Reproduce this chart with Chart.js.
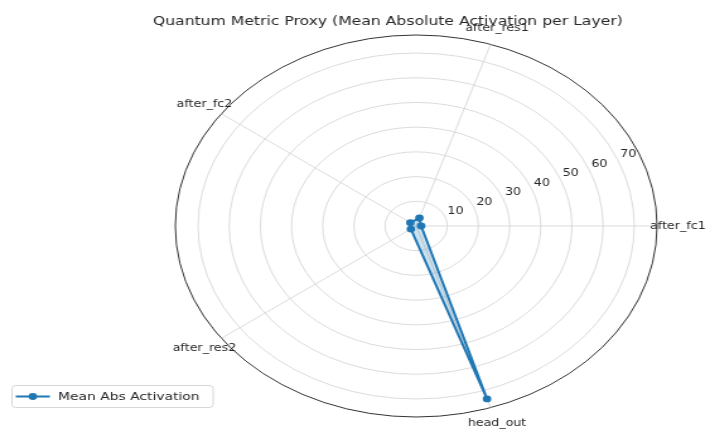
<!DOCTYPE html>
<html>
<head>
<meta charset="utf-8">
<script src="https://cdn.jsdelivr.net/npm/chart.js@4/dist/chart.umd.min.js"></script>
<style>
  html, body { margin: 0; padding: 0; background: #fff; overflow: hidden; }
</style>
</head>
<body>
<canvas id="c" width="563" height="432" style="display:block;width:710px;height:432px"></canvas>
<script>
// Layers in the order they are recorded, and the mean |activation| of each.
const layers = ['after_fc1', 'after_res1', 'after_fc2', 'after_res2', 'head_out'];
const meanAbsActivation = [1.6, 3.4, 2.3, 2.1, 73.6];
const radialTicks = [10, 20, 30, 40, 50, 60, 70];
const radialMax = 77.3;
const chartTitle = 'Quantum Metric Proxy (Mean Absolute Activation per Layer)';
const seriesName = 'Mean Abs Activation';

const LINE_BLUE = '#1f77b4';
const TEXT = '#262626';
const FONT = '"DejaVu Sans", "Liberation Sans", sans-serif';

// The first layer points east and the others follow counter-clockwise;
// the radial scale walks clockwise, so take the remaining layers in reverse.
const order = layers.map((_, i) => (layers.length - i) % layers.length);
const axisLabels = order.map(i => layers[i]);
const axisValues = order.map(i => meanAbsActivation[i]);

const polarDecor = {
  id: 'polarDecor',
  afterDraw(chart) {
    const ctx = chart.ctx;
    const s = chart.scales.r;
    ctx.save();

    // radial tick labels along the 22.5° ray
    const a = 22.5 * Math.PI / 180;
    ctx.fillStyle = TEXT;
    ctx.font = '10px ' + FONT;
    ctx.textAlign = 'left';
    ctx.textBaseline = 'bottom';
    radialTicks.forEach(v => {
      const d = s.getDistanceFromCenterForValue(v);
      ctx.fillText(String(v), s.xCenter + Math.cos(a) * d + 2, s.yCenter - Math.sin(a) * d);
    });

    // layer names just outside the outer circle
    ctx.textAlign = 'center';
    ctx.textBaseline = 'middle';
    axisLabels.forEach((name, i) => {
      const p = s.getPointPosition(i, s.drawingArea + 16.5);
      ctx.fillText(name, p.x, p.y);
    });

    // title
    ctx.font = '12.4px ' + FONT;
    ctx.textBaseline = 'alphabetic';
    ctx.fillText(chartTitle, 307.5, 25);

    // legend box
    ctx.beginPath();
    ctx.roundRect(9.5, 385.5, 159.5, 22, 3);
    ctx.fillStyle = 'rgba(255,255,255,0.8)';
    ctx.fill();
    ctx.strokeStyle = '#d6d6d6';
    ctx.lineWidth = 1;
    ctx.stroke();

    ctx.strokeStyle = LINE_BLUE;
    ctx.lineWidth = 2;
    ctx.beginPath();
    ctx.moveTo(12.5, 396.5);
    ctx.lineTo(39.5, 396.5);
    ctx.stroke();
    ctx.fillStyle = LINE_BLUE;
    ctx.beginPath();
    ctx.arc(26, 396.5, 3.4, 0, Math.PI * 2);
    ctx.fill();

    ctx.fillStyle = TEXT;
    ctx.font = '11px ' + FONT;
    ctx.textAlign = 'left';
    ctx.textBaseline = 'middle';
    ctx.fillText(seriesName, 46, 397);

    ctx.restore();
  }
};

new Chart(document.getElementById('c'), {
  type: 'radar',
  data: {
    labels: axisLabels,
    datasets: [{
      label: seriesName,
      data: axisValues,
      borderColor: LINE_BLUE,
      backgroundColor: 'rgba(31,119,180,0.22)',
      fill: true,
      borderWidth: 2,
      pointRadius: 3.4,
      pointBackgroundColor: LINE_BLUE,
      pointBorderColor: LINE_BLUE,
      pointBorderWidth: 0,
      tension: 0
    }]
  },
  options: {
    responsive: false,
    devicePixelRatio: 1,
    animation: false,
    layout: { padding: { left: 130, right: 33, top: 35, bottom: 14 } },
    plugins: {
      legend: { display: false },
      title: { display: false },
      tooltip: { enabled: false }
    },
    scales: {
      r: {
        min: 0,
        max: radialMax,
        startAngle: 90,
        ticks: { display: false, stepSize: 10 },
        pointLabels: { display: false },
        grid: {
          circular: true,
          color: c => (c.tick && c.tick.value >= radialMax) ? '#333333' : '#d2d2d2',
          lineWidth: c => (c.tick && c.tick.value >= radialMax) ? 1 : 0.8
        },
        angleLines: { display: true, color: '#d2d2d2', lineWidth: 0.8 }
      }
    }
  },
  plugins: [polarDecor]
});
</script>
</body>
</html>
